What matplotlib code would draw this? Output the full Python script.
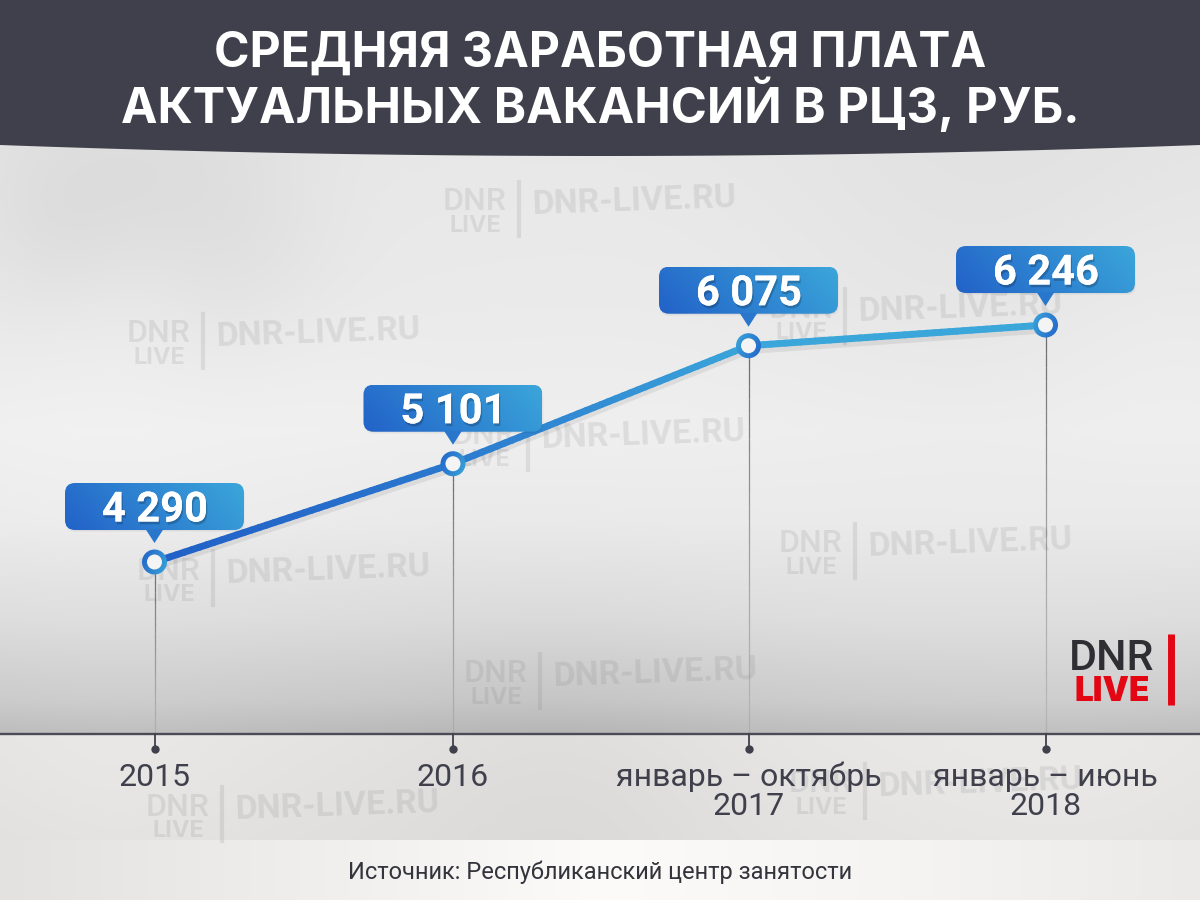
import numpy as np
import matplotlib
matplotlib.use('Agg')
import matplotlib.pyplot as plt
from matplotlib.collections import LineCollection
from matplotlib.colors import LinearSegmentedColormap
from matplotlib.patches import FancyBboxPatch, Polygon, Circle
import matplotlib.patheffects as pe

plt.rcParams['font.family'] = ['Roboto', 'DejaVu Sans']

# data
positions = [0, 1.005, 2, 3]
salaries = [4290, 5101, 6075, 6246]
salary_labels = ['4 290', '5 101', '6 075', '6 246']
tick_labels = ['2015', '2016', 'январь – октябрь\n2017', 'январь – июнь\n2018']
title_lines = ['СРЕДНЯЯ ЗАРАБОТНАЯ ПЛАТА', 'АКТУАЛЬНЫХ ВАКАНСИЙ В РЦЗ, РУБ.']
source = 'Источник: Республиканский центр занятости'

DARK = '#3f404b'
BLUE1 = '#2262c8'
BLUE2 = '#3ba6da'
blues = LinearSegmentedColormap.from_list('blues', [BLUE1, BLUE2])

fig = plt.figure(figsize=(12, 9), dpi=100)

# background axes in pixels
bg = fig.add_axes([0, 0, 1, 1])
bg.axis('off')

# backdrop: grey gradient with soft smudges
yy, xx = np.mgrid[0:900, 0:1200]
shade = np.interp(yy, [0, 150, 300, 430, 520, 620, 700, 733, 735, 838],
                  [230, 230, 233, 238, 234, 220, 202, 187, 228, 224]).astype(float)
smudges = [(130, 200, 110, -8), (250, 240, 90, -6), (60, 230, 60, -5), (330, 190, 80, 3), (130, 290, 60, 4),
           (600, 240, 160, 2), (1000, 200, 150, -4), (1150, 320, 90, 3), (320, 350, 70, 2), (120, 430, 140, 4),
           (560, 790, 120, -6), (900, 780, 160, 3), (120, 780, 90, 4), (1100, 800, 120, 4)]
for sx, sy, r, amp in smudges:
    shade += amp * np.exp(-((xx - sx) ** 2 + (yy - sy) ** 2) / (2.0 * r * r))
footer = np.interp(xx, [0, 350, 600, 900, 1200], [226, 240, 251, 244, 234])
shade = np.where(yy >= 840, footer, shade)
tint = np.dstack([shade + 1, shade, np.where(yy < 734, shade, shade - 1)])
bg.imshow(np.clip(tint, 0, 255) / 255.0, extent=(0, 1200, 900, 0), aspect='auto', zorder=0)

# watermarks
marks = [(445, 188), (129, 320), (139, 557), (454, 422), (781, 530), (771, 295), (466, 660), (148, 793), (791, 770)]
wm = dict(color='#6f7072', alpha=0.14, zorder=1)
for mx, my in marks:
    bg.text(mx + 30, my + 14, 'DNR', fontsize=23, ha='center', va='center', fontweight='medium', **wm)
    bg.text(mx + 30, my + 38, 'LIVE', fontsize=17, ha='center', va='center', fontweight='bold',
            family=['Inter', 'Roboto'], **wm)
    bg.plot([mx + 74, mx + 74], [my - 6, my + 48], lw=3, color=wm['color'], alpha=wm['alpha'], zorder=1)
    bg.text(mx + 88, my + 17, 'DNR-LIVE.RU', fontsize=24.5, ha='left', va='center', rotation=2,
            rotation_mode='anchor', fontweight='bold', **wm)

# header band with the curved lower edge
edge_x = np.linspace(0, 1200, 100)
edge_y = 156 - 11 * ((edge_x - 600) / 600) ** 2
bg.fill_between(edge_x, 0, edge_y, color=DARK, lw=0, zorder=2)
for line, base, size in zip(title_lines, [67, 123], [34.6, 35.2]):
    bg.text(600, base, line, color='white', fontsize=size, fontweight='bold', family=['Inter', 'Roboto'],
            ha='center', va='baseline', zorder=3)

bg.set_xlim(0, 1200)
bg.set_ylim(900, 0)

# data axes, on top of the backdrop
ax = fig.add_axes([0, 0, 1, 1])
ax.patch.set_alpha(0)
ax.axis('off')
ax.set_xlim(-154.5 / 297.0, (1200 - 154.5) / 297.0)
per_px = (6246 - 4290) / (562.0 - 325.0)
ax.set_ylim(4290 - (900 - 562) * per_px, 4290 + 562 * per_px)
baseline = 4290 - (734 - 562) * per_px


def to_px(x, y):
    px = ax.transData.transform((x, y))
    return px[0], 900 - px[1]


# axes for bubbles and marker rings, in pixels again
top = fig.add_axes([0, 0, 1, 1])
top.patch.set_alpha(0)
top.axis('off')

# axis line, ticks and fading drop lines
ax.axhline(baseline, color='#4a4b55', lw=1.7, zorder=4)
for p, s in zip(positions, salaries):
    ys = np.linspace(s, baseline, 30)
    drop = np.stack([np.column_stack([[p] * 29, ys[:-1]]), np.column_stack([[p] * 29, ys[1:]])], axis=1)
    fades = np.zeros((29, 4))
    fades[:, :3] = 0.25
    fades[:, 3] = np.linspace(0.75, 0.12, 29)
    ax.add_collection(LineCollection(drop, colors=fades, linewidths=0.9, zorder=3))
    ax.plot([p, p], [baseline, baseline - 15 * per_px], color=DARK, lw=1.3, zorder=4)
    ax.plot([p], [baseline - 15 * per_px], 'o', color=DARK, ms=6, mew=0, zorder=4)

for p, lab in zip(positions, tick_labels):
    tx, ty = to_px(p, baseline)
    for k, part in enumerate(lab.split('\n')):
        bg.text(tx, ty + 52 + 29 * k, part, color=DARK, fontsize=23, ha='center', va='baseline', zorder=4)

# salary line with a blue gradient along x
seg_x = []
seg_y = []
for i in range(len(positions) - 1):
    t = np.linspace(0, 1, 40, endpoint=False)
    seg_x.extend(positions[i] + t * (positions[i + 1] - positions[i]))
    seg_y.extend(salaries[i] + t * (salaries[i + 1] - salaries[i]))
seg_x.append(positions[-1])
seg_y.append(salaries[-1])
pts = np.column_stack([seg_x, seg_y])
segs = np.stack([pts[:-1], pts[1:]], axis=1)
ax.plot(positions, salaries, color='black', alpha=0.07, lw=6, zorder=5, solid_capstyle='round',
        path_effects=[pe.Stroke(offset=(0, -3))])
lc = LineCollection(segs, cmap=blues, linewidths=5, zorder=6, capstyle='round')
lc.set_array(np.clip(pts[:-1, 0] / 2.0, 0, 1) ** 1.5)
lc.set_clim(0, 1)
ax.add_collection(lc)

# value bubbles and marker rings
bubble_grad = np.add.outer(np.linspace(0.2, 0, 64), np.linspace(0, 0.8, 128))
ring_grad = np.add.outer(np.linspace(0, 0.3, 32), np.linspace(0, 0.7, 32))
for i, (p, s, lab) in enumerate(zip(positions, salaries, salary_labels)):
    cx, cy = to_px(p, s)
    x0, x1 = cx - 89.5, cx + 89.5
    y0, y1 = cy - 79, cy - 32

    # soft shadow
    for k in range(1, 6):
        top.add_patch(FancyBboxPatch((x0 + 6 - k, y0 + 8 - k), 169 + 2 * k, 36 + 2 * k,
                                     boxstyle='round,pad=0,rounding_size=9', fc='black', ec='none',
                                     alpha=0.03, zorder=8))
    box = FancyBboxPatch((x0, y0), 179, 47, boxstyle='round,pad=0,rounding_size=10',
                         fc='none', ec='none', zorder=9)
    top.add_patch(box)
    im = top.imshow(bubble_grad, cmap=blues, vmin=0, vmax=1, extent=(x0, x1, y1, y0), aspect='auto', zorder=10)
    im.set_clip_path(box)
    top.add_patch(Polygon([(cx - 9, y1 - 1), (cx + 9, y1 - 1), (cx, y1 + 13)], closed=True,
                          fc=blues(0.3), ec='none', zorder=10))
    txt = top.text(cx + 0.5, y1 - 8.5, lab, color='white', fontsize=30, fontweight='bold',
                   ha='center', va='baseline', zorder=11)
    txt.set_path_effects([pe.withSimplePatchShadow(offset=(1, -2), shadow_rgbFace='black', alpha=0.2),
                          pe.Normal()])

    # ring: gradient flips after 2016 like in the picture
    ring = Circle((cx, cy), 12.5, fc='none', ec='none', zorder=12)
    top.add_patch(ring)
    grad = ring_grad if i < 2 else 1 - ring_grad
    im2 = top.imshow(grad, cmap=blues, vmin=0, vmax=1, extent=(cx - 13, cx + 13, cy + 13, cy - 13),
                     aspect='auto', zorder=12)
    im2.set_clip_path(ring)
    top.add_patch(Circle((cx, cy), 7.5, fc='#f4f4f5', ec='none', zorder=13))

top.set_xlim(0, 1200)
top.set_ylim(900, 0)

# logo
bg.text(1112, 670, 'DNR', color='#2f2f33', fontsize=31, fontweight='medium', ha='center', va='baseline', zorder=4)
bg.text(1112, 701, 'LIVE', color='#e30613', fontsize=24, fontweight='black', family=['Inter', 'Roboto'],
        ha='center', va='baseline', zorder=4)
bg.plot([1170.5, 1170.5], [634, 705], color='#e30613', lw=5, solid_capstyle='butt', zorder=4)

# footer
bg.text(600, 879, source, color='#33343c', fontsize=17, ha='center', va='baseline', zorder=4)

fig.savefig('out.png', dpi=100)
